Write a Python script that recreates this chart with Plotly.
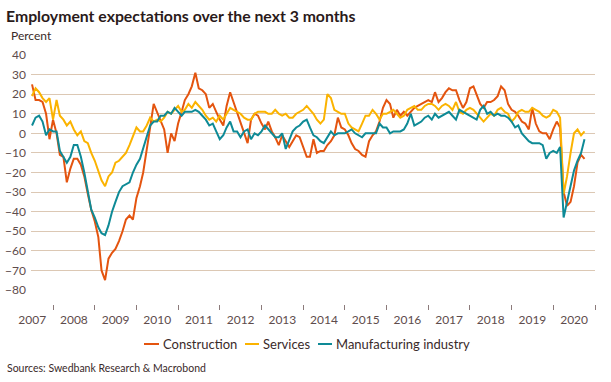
import pandas as pd
import plotly.graph_objects as go

months = pd.date_range("2007-07-01", periods=160, freq="MS")

construction = [
    25, 17, 17, 16, 10, -3, 7, 0, -11, -12, -25, -18, -13, -13, -16, -22, -31, -39, -45, -53,
    -70, -75, -64, -61, -59, -55, -50, -44, -42, -44, -33, -27, -20, -9, 3, 15, 11, 7, 2, -10,
    0, -4, 5, 11, 17, 20, 24, 31, 23, 22, 20, 13, 15, 11, 7, 4, 14, 21, 16, 11,
    6, 0, -5, 7, 10, 9, 5, 2, 6, 1, -2, -6, -1, -4, -7, -4, -1, -2, -7, -12,
    -12, -3, -10, -9, -9, -6, -4, -1, 8, 3, 2, -1, -5, -8, -9, -11, -12, -4, -1, 1,
    6, 13, 17, 15, 8, 12, 9, 11, 9, 11, 13, 14, 15, 16, 17, 16, 21, 16, 18, 21,
    23, 22, 22, 17, 13, 16, 23, 24, 20, 15, 13, 16, 16, 17, 19, 24, 22, 15, 12, 11,
    9, 6, 5, 2, 13, 5, 1, 0, 0, -3, 2, 6, 3, -30, -37, -35, -27, -15, -11, -13,
]

services = [
    19, 23, 21, 18, 16, 18, 7, 17, 9, 7, 4, 6, 2, -1, 1, -4, -5, -10, -14, -19,
    -24, -27, -22, -20, -15, -14, -12, -10, -6, -2, 3, 1, 1, 4, 8, 6, 7, 6, 8, 11,
    10, 12, 14, 11, 12, 15, 13, 16, 14, 12, 9, 7, 8, 6, 9, 7, 10, 13, 12, 11,
    10, 8, 7, 7, 10, 11, 11, 11, 10, 10, 12, 10, 9, 10, 8, 8, 10, 11, 12, 14,
    12, 10, 7, 5, 7, 20, 18, 12, 11, 10, 10, 5, 3, 2, 1, 5, 9, 9, 12, 10,
    7, 10, 10, 11, 12, 10, 8, 9, 12, 13, 14, 12, 12, 14, 15, 15, 14, 12, 14, 15,
    14, 12, 16, 11, 10, 12, 13, 12, 10, 8, 6, 8, 10, 9, 12, 13, 11, 10, 6, 8,
    11, 12, 11, 11, 13, 12, 11, 9, 8, 9, 12, 11, 8, -31, -22, -10, 0, 2, -1, 1,
]

manufacturing = [
    4, 8, 9, 6, -1, 2, 1, 1, -9, -12, -15, -12, -6, -6, -12, -20, -30, -39, -43, -48,
    -51, -52, -47, -40, -35, -30, -27, -26, -25, -20, -16, -13, -8, -2, 4, 6, 6, 9, 9, 11,
    10, 13, 11, 9, 11, 11, 11, 12, 11, 9, 7, 4, 5, 1, -3, -1, 3, 6, 1, 1,
    -2, 1, 2, -3, 0, -1, 1, 4, 2, 0, -2, -2, 0, -8, -3, 1, 3, 4, 6, 7,
    3, -1, -2, -4, -5, -2, 1, -1, 0, 0, 0, 1, 2, 0, -1, -2, 0, 0, 0, 0,
    5, 3, 3, 0, 1, 1, 1, 2, 5, 10, 4, 5, 6, 8, 9, 7, 10, 8, 9, 10,
    11, 9, 7, 12, 11, 10, 9, 8, 7, 12, 14, 10, 11, 9, 10, 9, 9, 8, 6, 3,
    4, 0, -2, -4, -5, -5, -5, -6, -13, -10, -9, -10, -7, -43, -35, -26, -19, -14, -10, -3,
]

series_names = ["Construction", "Services", "Manufacturing industry"]
series_values = [construction, services, manufacturing]
series_colors = ["#E4540F", "#FBB300", "#0E8A96"]

FONT = "Lato"
TEXT = "#3a2a2a"
TICK = "#5e4c4c"
GRID = "#dcc8b4"

W, H = 611, 382
L, R, T, B = 31, 16, 55, 78
PW, PH = W - L - R, H - T - B
y_bottom_px = 290.0
ydom0 = (H - B - y_bottom_px) / PH


def px_x(px):
    return (px - L) / PW


def px_y(py):
    return (H - B - py) / PH


fig = go.Figure()
for name, vals, col in zip(series_names, series_values, series_colors):
    fig.add_trace(go.Scatter(x=months, y=vals, mode="lines", name=name,
                             line=dict(color=col, width=2), showlegend=False))

fig.update_layout(
    width=W, height=H,
    margin=dict(l=L, r=R, t=T, b=B, autoexpand=False),
    paper_bgcolor="white", plot_bgcolor="white",
    font=dict(family=FONT, color=TICK, size=12),
    xaxis=dict(
        type="date", range=["2007-06-22", "2021-01-01"], automargin=False,
        tick0="2007-01-01", dtick="M12", tickformat="%Y", ticklabelmode="period",
        ticks="outside", ticklen=5, tickcolor="#8c7b7b", tickwidth=1,
        showgrid=False, zeroline=False, showline=False,
        anchor="free", position=0,
        tickfont=dict(family=FONT, size=12, color=TICK),
    ),
    yaxis=dict(
        range=[-80, 40], dtick=10, domain=[ydom0, 1], automargin=False,
        showgrid=True, gridcolor=GRID, gridwidth=1, zeroline=False,
        showline=False, ticks="", ticklabelstandoff=4,
        tickfont=dict(family=FONT, size=12, color=TICK),
    ),
)

annotations = [
    dict(text="<b>Employment expectations over the next 3 months</b>", x=px_x(4), y=px_y(15),
         xref="paper", yref="paper", xanchor="left", yanchor="middle", showarrow=False,
         font=dict(family=FONT, size=15.8, color="#2a1a1a")),
    dict(text="Percent", x=px_x(9), y=px_y(36), xref="paper", yref="paper",
         xanchor="left", yanchor="middle", showarrow=False,
         font=dict(family=FONT, size=12, color=TEXT)),
    dict(text="Sources: Swedbank Research & Macrobond", x=px_x(5), y=px_y(368),
         xref="paper", yref="paper", xanchor="left", yanchor="middle", showarrow=False,
         font=dict(family=FONT, size=10.5, color=TEXT)),
]

legend_items = [(144, 159, 161), (245, 259, 261), (318, 332, 334)]
shapes = []
for (x0, x1, xt), name, col in zip(legend_items, series_names, series_colors):
    shapes.append(dict(type="line", xref="paper", yref="paper", x0=px_x(x0), x1=px_x(x1),
                       y0=px_y(344), y1=px_y(344), line=dict(color=col, width=2)))
    annotations.append(dict(text=name, x=px_x(xt), y=px_y(344), xref="paper", yref="paper",
                            xanchor="left", yanchor="middle", showarrow=False,
                            font=dict(family=FONT, size=13, color=TEXT)))

fig.update_layout(annotations=annotations, shapes=shapes)
fig.write_html("out.html", config={"displayModeBar": False},
               post_script="document.body.style.margin='0';document.body.style.padding='0';")
